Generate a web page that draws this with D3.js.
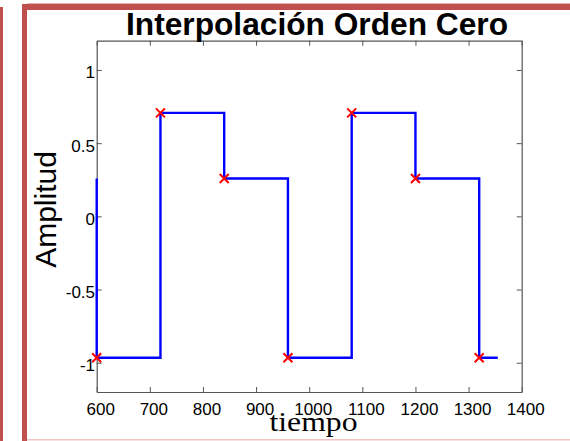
<!DOCTYPE html>
<html>
<head>
<meta charset="utf-8">
<script src="https://cdn.jsdelivr.net/npm/d3@7"></script>
<style>
  body { margin: 0; background: #fff; }
  svg { display: block; }
  .axis path, .axis line { stroke: #555; }
  .axis text { font-family: "Liberation Sans", Arial, sans-serif; font-size: 17px; fill: #000; }
</style>
</head>
<body>
<script>
// muestras de la señal
const tiempos = [600, 720, 840, 960, 1080, 1200, 1320];
const amplitudes = [-0.966, 0.707, 0.259, -0.966, 0.707, 0.259, -0.966];
// valor retenido antes de la primera muestra y fin del trazo
const valorInicial = 0.259;
const tiempoFinal = 1355;

const xTicks = [600, 700, 800, 900, 1000, 1100, 1200, 1300, 1400];
const yTicks = [-1, -0.5, 0, 0.5, 1];

const W = 570, H = 441;
const margin = {top: 40.7, right: 48.3, bottom: 49, left: 96.7};
const width = W - margin.left - margin.right;
const height = H - margin.top - margin.bottom;

const svg = d3.select('body').append('svg')
    .attr('width', W)
    .attr('height', H);

// marco rojo de la diapositiva
const red = '#c0504d';
svg.append('rect').attr('x', 0).attr('y', 7).attr('width', 3).attr('height', H - 7).attr('fill', red);
svg.append('rect').attr('x', 22).attr('y', 4).attr('width', 5).attr('height', H - 4).attr('fill', red);
svg.append('rect').attr('x', 22).attr('y', 4).attr('width', W - 22).attr('height', 6).attr('fill', red);
svg.append('rect').attr('x', 27).attr('y', 3).attr('width', W - 27).attr('height', 1).attr('fill', '#e6b4b3');
svg.append('rect').attr('x', 27).attr('y', 439).attr('width', W - 27).attr('height', 1.5).attr('fill', '#f0c4c4');

const g = svg.append('g')
    .attr('transform', `translate(${margin.left},${margin.top})`);

const x = d3.scaleLinear().domain([600, 1400]).range([0, width]);
const y = d3.scaleLinear().domain([-1.2, 1.2]).range([height, 0]);

// ejes con marcas hacia dentro (caja cerrada)
g.append('g')
  .attr('class', 'axis')
  .attr('transform', `translate(0,${height})`)
  .call(d3.axisBottom(x).tickValues(xTicks).tickFormat(d => String(d))
        .tickSizeInner(-5).tickSizeOuter(0).tickPadding(0))
  .call(s => s.selectAll('text').attr('y', 23).attr('dy', 0).attr('dx', 3.5));
g.append('g')
  .attr('class', 'axis')
  .call(d3.axisTop(x).tickValues(xTicks).tickFormat('')
        .tickSizeInner(-5).tickSizeOuter(0));
g.append('g')
  .attr('class', 'axis')
  .call(d3.axisLeft(y).tickValues(yTicks).tickFormat(d => String(d))
        .tickSizeInner(-5).tickSizeOuter(0).tickPadding(0))
  .call(s => s.selectAll('text').attr('x', -1.7).attr('dy', 8));
g.append('g')
  .attr('class', 'axis')
  .attr('transform', `translate(${width},0)`)
  .call(d3.axisRight(y).tickValues(yTicks).tickFormat('')
        .tickSizeInner(-5).tickSizeOuter(0));
g.selectAll('.axis .domain').attr('stroke-width', 1.2);

// retención de orden cero
const pts = [[600, valorInicial]]
  .concat(tiempos.map((t, i) => [t, amplitudes[i]]))
  .concat([[tiempoFinal, amplitudes[amplitudes.length - 1]]]);
g.append('path')
  .datum(pts)
  .attr('fill', 'none')
  .attr('stroke', '#0000ff')
  .attr('stroke-width', 2.4)
  .attr('d', d3.line().x(d => x(d[0])).y(d => y(d[1])).curve(d3.curveStepAfter));

// muestras
const m = 4.5;
g.selectAll('.marca')
  .data(tiempos.map((t, i) => [t, amplitudes[i]]))
  .enter().append('path')
  .attr('class', 'marca')
  .attr('fill', 'none')
  .attr('stroke', '#ff0000')
  .attr('stroke-width', 2)
  .attr('d', d => {
    const cx = x(d[0]), cy = y(d[1]);
    return `M${cx - m},${cy - m}L${cx + m},${cy + m}M${cx - m},${cy + m}L${cx + m},${cy - m}`;
  });

// textos
svg.append('text')
  .attr('x', 317).attr('y', 35)
  .attr('text-anchor', 'middle')
  .style('font-family', '"Liberation Sans", Arial, sans-serif')
  .style('font-weight', 'bold')
  .style('font-size', '31px')
  .attr('textLength', 382)
  .attr('lengthAdjust', 'spacingAndGlyphs')
  .text('Interpolación Orden Cero');

svg.append('text')
  .attr('transform', 'translate(56,209.5) rotate(-90)')
  .attr('text-anchor', 'middle')
  .style('font-family', '"Liberation Sans", Arial, sans-serif')
  .style('font-size', '30px')
  .text('Amplitud');

svg.append('text')
  .attr('x', 313.5).attr('y', 431)
  .attr('text-anchor', 'middle')
  .style('font-family', '"Liberation Serif", "Times New Roman", serif')
  .style('font-size', '28px')
  .attr('textLength', 88)
  .attr('lengthAdjust', 'spacingAndGlyphs')
  .text('tiempo');
</script>
</body>
</html>
